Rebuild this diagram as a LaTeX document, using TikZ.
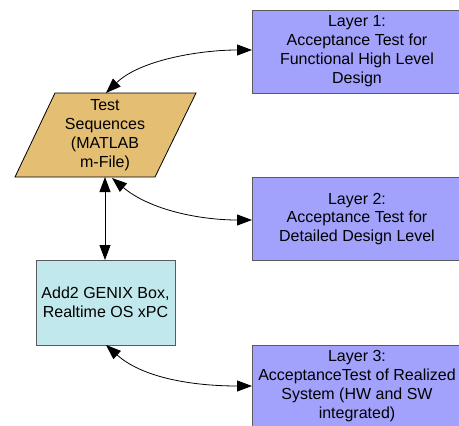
\documentclass[tikz,border=0pt]{standalone}
\usepackage{fontspec}
\setmainfont{Liberation Sans}
\usetikzlibrary{arrows.meta,shapes.geometric}
\definecolor{layerfill}{RGB}{162,162,252}
\definecolor{seqfill}{RGB}{227,190,115}
\definecolor{boxfill}{RGB}{193,232,236}
\definecolor{edgegray}{RGB}{90,90,90}
\tikzset{
  txt/.style={font=\fontsize{16}{18.8}\selectfont, align=center},
  layerbox/.style={draw=edgegray, line width=1pt, fill=layerfill},
  conn/.style={line width=0.8pt, {Triangle[length=15pt,width=11pt]}-{Triangle[length=15pt,width=11pt]}},
}
\begin{document}
\begin{tikzpicture}[x=1pt,y=-1pt]
\useasboundingbox (0,0) rectangle (459,426);
% boxes
\draw[layerbox] (460,10) -- (252,10) -- (252,93) -- (460,93);
\node[txt] (l1) at (357,51) {Layer 1:\\Acceptance Test for\\Functional High Level\\Design};
\coordinate (l1w) at (252,50);
\draw[layerbox] (460,177) -- (252,177) -- (252,260) -- (460,260);
\node[txt] (l2) at (357,219) {Layer 2:\\Acceptance Test for\\Detailed Design Level};
\coordinate (l2w) at (252,220);
\draw[layerbox] (460,345) -- (252,345) -- (252,427) -- (460,427);
\node[txt] (l3) at (357,386) {Layer 3:\\AcceptanceTest of Realized\\System (HW and SW\\integrated)};
\coordinate (l3w) at (252,386);
% parallelogram
\draw[fill=seqfill, line width=0.8pt] (55,93) -- (196,93) -- (155,177) -- (15,177) -- cycle;
\node[txt] (seq) at (105,135) {Test\\Sequences\\(MATLAB\\m-File)};
\coordinate (seqt) at (106,93);
\coordinate (seqb) at (105,177);
\coordinate (seqb2) at (112,178);
% add2 box
\draw[draw=edgegray, line width=1pt, fill=boxfill] (36,260) rectangle (175,345);
\node[txt] (add) at (105.5,302) {Add2 GENIX Box,\\Realtime OS xPC};
\coordinate (addt) at (105,260);
\coordinate (addb) at (106,345);
% connectors
\draw[conn] (seqt) .. controls (140,60) and (200,50) .. (l1w);
\draw[conn] (seqb) -- (addt);
\draw[conn] (seqb2) .. controls (150,210) and (200,220) .. (l2w);
\draw[conn] (addb) .. controls (145,380) and (200,386) .. (l3w);
\end{tikzpicture}
\end{document}
